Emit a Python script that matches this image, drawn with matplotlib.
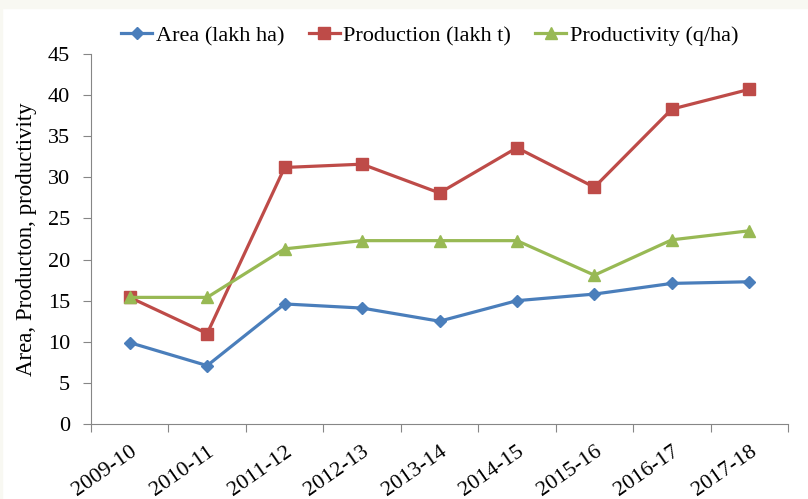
import matplotlib
matplotlib.use("Agg")
import matplotlib.pyplot as plt
import numpy as np

# Data
seasons = ["2009-10", "2010-11", "2011-12", "2012-13", "2013-14",
           "2014-15", "2015-16", "2016-17", "2017-18"]
area = [9.9, 7.1, 14.6, 14.1, 12.5, 15.0, 15.8, 17.1, 17.3]
production = [15.4, 11.0, 31.2, 31.6, 28.1, 33.6, 28.8, 38.3, 40.7]
productivity = [15.4, 15.4, 21.3, 22.3, 22.3, 22.3, 18.1, 22.4, 23.5]

plt.rcParams["font.family"] = ["Liberation Serif", "DejaVu Serif"]

fig = plt.figure(figsize=(8.08, 4.99), dpi=100)
# thin off-white strip along the top and left, like the screenshot
fig.patches.append(plt.Rectangle((0, 0.984), 1, 0.016, transform=fig.transFigure,
                                 color="#f8f8f2", zorder=0))
fig.patches.append(plt.Rectangle((0, 0), 0.003, 1, transform=fig.transFigure,
                                 color="#f8f8f2", zorder=0))
ax = fig.add_axes([91 / 808, 75 / 499, 697 / 808, 370 / 499])

x = np.arange(len(seasons))
ax.plot(x, area, color="#4a7ebb", marker="D", markersize=6.5, linewidth=2.3,
        label="Area (lakh ha)")
ax.plot(x, production, color="#be4b48", marker="s", markersize=8, linewidth=2.3,
        label="Production (lakh t)")
ax.plot(x, productivity, color="#98b954", marker="^", markersize=9, linewidth=2.3,
        label="Productivity (q/ha)")

ax.set_xlim(-0.5, len(seasons) - 0.5)
ax.set_ylim(0, 45)
ax.set_yticks(range(0, 46, 5))
ax.set_xticks(np.arange(-0.5, len(seasons), 1.0), minor=False)
ax.set_xticklabels([])
ax.set_xticks(x, minor=True)
ax.set_xticklabels(seasons, minor=True, rotation=35, ha="right",
                   rotation_mode="anchor", fontsize=16)
ax.tick_params(axis="x", which="minor", length=0, pad=13)
ax.tick_params(axis="x", which="major", length=6, color="#868686")
ax.tick_params(axis="y", length=6, color="#868686", labelsize=16, pad=9)

for side in ["top", "right"]:
    ax.spines[side].set_visible(False)
for side in ["left", "bottom"]:
    ax.spines[side].set_color("#868686")

ax.set_ylabel("Area, Producton, productivity", fontsize=16.5, labelpad=8)

ax.legend(loc="center", bbox_to_anchor=(0.486, 1.049), ncol=3, frameon=False,
          fontsize=16, handlelength=1.4, handletextpad=0.15, columnspacing=1.1,
          borderpad=0.2)

fig.savefig("out.png", dpi=100)
